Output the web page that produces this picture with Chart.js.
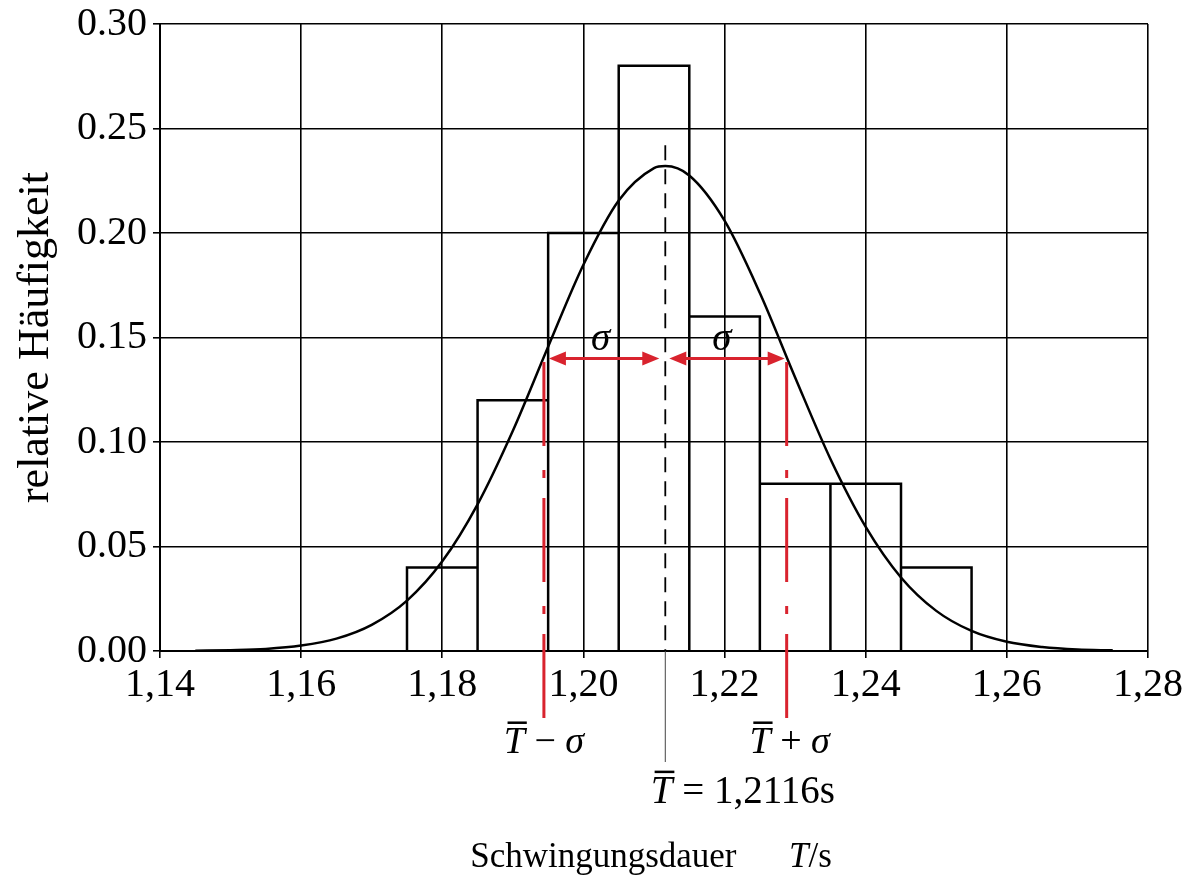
<!DOCTYPE html>
<html>
<head>
<meta charset="utf-8">
<script src="https://cdn.jsdelivr.net/npm/chart.js@4.4.0/dist/chart.umd.min.js"></script>
<style>
  html, body { margin: 0; padding: 0; background: #fff; }
  #wrap { width: 1188px; height: 884px; }
</style>
</head>
<body>
<div id="wrap"><canvas id="chart"></canvas></div>
<script>
// histogram classes (period in s) and relative frequencies
const binLeft  = [1.175, 1.185, 1.195, 1.205, 1.215, 1.225, 1.235, 1.245];
const binRight = [1.185, 1.195, 1.205, 1.215, 1.225, 1.235, 1.245, 1.255];
const relFreq  = [0.04, 0.12, 0.20, 0.28, 0.16, 0.08, 0.08, 0.04];

// normal curve, values
const curveT = [1.145, 1.150, 1.155, 1.160, 1.165, 1.170, 1.175, 1.180, 1.185, 1.190,
                1.195, 1.200, 1.205, 1.210, 1.2116, 1.215, 1.220, 1.225, 1.230, 1.235,
                1.240, 1.245, 1.250, 1.255, 1.260, 1.265, 1.270, 1.275];
const curveH = [0.0001, 0.0004, 0.0010, 0.0026, 0.0059, 0.0125, 0.0241, 0.0429, 0.0702, 0.1054,
                0.1456, 0.1848, 0.2155, 0.2310, 0.2320, 0.2275, 0.2059, 0.1713, 0.1309, 0.0919,
                0.0594, 0.0352, 0.0192, 0.0096, 0.0044, 0.0019, 0.0007, 0.0003];

// mean and standard deviation
const meanT = 1.2116;
const sigmaT = 0.0172;
const sigmaLevel = 0.14;  // where the sigma arrows sit
const meanTop = 0.242;    // top of the dashed mean line

const xRange = [1.14, 1.28, 0.02];
const yRange = [0, 0.30, 0.05];

const SERIF = '"Liberation Serif", "Times New Roman", serif';
const RED = '#d9232e';

const histPoints = [];
binLeft.forEach((l, i) => {
    histPoints.push({x: l, y: 0}, {x: l, y: relFreq[i]}, {x: binRight[i], y: relFreq[i]}, {x: binRight[i], y: 0});
});
const curvePoints = curveT.map((t, i) => ({x: t, y: curveH[i]}));

function fontOf(size, italic) {
    return (italic ? 'italic ' : '') + size + 'px ' + SERIF;
}

// draws a row of text pieces, some italic, some with an overbar
function drawRich(ctx, parts, xPos, baseY, size, align) {
    const widths = parts.map(p => {
        if (p.gap) return p.gap * size;
        ctx.font = fontOf(size, p.it);
        return ctx.measureText(p.t).width;
    });
    const total = widths.reduce((a, b) => a + b, 0);
    let cx = align === 'center' ? xPos - total / 2 : xPos;
    ctx.textAlign = 'left';
    ctx.textBaseline = 'alphabetic';
    parts.forEach((p, i) => {
        if (!p.gap) {
            ctx.font = fontOf(size, p.it);
            ctx.fillText(p.t, cx, baseY);
            if (p.bar) {
                ctx.fillRect(cx + size * 0.1, baseY - size * 0.83, widths[i] - size * 0.05, 2.5);
            }
        }
        cx += widths[i];
    });
}

function arrow(ctx, x1, x2, yy) {
    const len = 17, half = 7;
    ctx.beginPath();
    ctx.moveTo(x1 + len - 2, yy);
    ctx.lineTo(x2 - len + 2, yy);
    ctx.stroke();
    ctx.beginPath();
    ctx.moveTo(x1, yy); ctx.lineTo(x1 + len, yy - half); ctx.lineTo(x1 + len, yy + half); ctx.closePath();
    ctx.moveTo(x2, yy); ctx.lineTo(x2 - len, yy - half); ctx.lineTo(x2 - len, yy + half); ctx.closePath();
    ctx.fill();
}

const overlay = {
    id: 'overlay',
    afterDraw(chart) {
        const {ctx, chartArea: area, scales: {x, y}} = chart;
        const xm = x.getPixelForValue(meanT);
        const xl = x.getPixelForValue(meanT - sigmaT);
        const xr = x.getPixelForValue(meanT + sigmaT);
        const ys = y.getPixelForValue(sigmaLevel);
        ctx.save();

        // dashed mean line, thin solid below the axis
        ctx.strokeStyle = '#000';
        ctx.lineWidth = 1.8;
        ctx.setLineDash([15, 9]);
        ctx.beginPath();
        ctx.moveTo(xm, y.getPixelForValue(meanTop));
        ctx.lineTo(xm, area.bottom);
        ctx.stroke();
        ctx.setLineDash([]);
        ctx.lineWidth = 1;
        ctx.strokeStyle = '#444';
        ctx.beginPath();
        ctx.moveTo(xm, area.bottom);
        ctx.lineTo(xm, area.bottom + 111);
        ctx.stroke();

        // red dash-dot lines at mean +- sigma
        ctx.strokeStyle = RED;
        ctx.lineWidth = 3;
        ctx.setLineDash([84, 20, 8, 24]);
        [xl, xr].forEach(px => {
            ctx.beginPath();
            ctx.moveTo(px, area.bottom + 67);
            ctx.lineTo(px, ys);
            ctx.stroke();
        });
        ctx.setLineDash([]);

        // sigma arrows
        ctx.fillStyle = RED;
        ctx.lineWidth = 3;
        arrow(ctx, xl + 5, xm - 6, ys);
        arrow(ctx, xm + 4, xr - 2, ys);

        ctx.fillStyle = '#000';
        ctx.font = fontOf(39, true);
        ctx.textAlign = 'center';
        ctx.textBaseline = 'alphabetic';
        ctx.fillText('σ', (xl + xm) / 2 - 4, ys - 8);
        ctx.fillText('σ', (xm + xr) / 2 - 4, ys - 8);

        // labels below the axis
        drawRich(ctx, [{t: 'T', it: true, bar: true}, {t: ' − '}, {t: 'σ', it: true}], xl, area.bottom + 102, 38, 'center');
        drawRich(ctx, [{t: 'T', it: true, bar: true}, {t: ' + '}, {t: 'σ', it: true}], xr + 3, area.bottom + 102, 38, 'center');
        ctx.font = fontOf(38, true);
        const tw = ctx.measureText('T').width;
        drawRich(ctx, [{t: 'T', it: true, bar: true}, {t: ' = '}, {t: '1,2116s'}], xm - tw / 2 - 4, area.bottom + 152, 39, 'left');

        // x axis title
        drawRich(ctx, [{t: 'Schwingungsdauer'}, {gap: 1.5}, {t: 'T', it: true}, {t: '/s'}],
                 (area.left + area.right) / 2 - 3, area.bottom + 216, 35, 'center');
        ctx.restore();
    }
};

Chart.defaults.font.family = SERIF;
Chart.defaults.color = '#000';

new Chart(document.getElementById('chart'), {
    type: 'line',
    data: {
        datasets: [{
            label: 'relative Häufigkeit',
            data: histPoints,
            borderColor: '#000',
            borderWidth: 2.5,
            pointRadius: 0,
            tension: 0,
            fill: false
        }, {
            label: 'Normalverteilung',
            data: curvePoints,
            borderColor: '#000',
            borderWidth: 2.5,
            pointRadius: 0,
            cubicInterpolationMode: 'monotone',
            fill: false
        }]
    },
    options: {
        responsive: true,
        maintainAspectRatio: false,
        animation: false,
        layout: { padding: { top: 23, right: 34, left: 0, bottom: 0 } },
        plugins: { legend: { display: false }, tooltip: { enabled: false } },
        scales: {
            x: {
                type: 'linear',
                min: xRange[0],
                max: xRange[1],
                ticks: {
                    stepSize: xRange[2],
                    font: { size: 40, lineHeight: 1.1 },
                    padding: 5,
                    maxRotation: 0,
                    autoSkip: false,
                    callback: v => v.toFixed(2).replace('.', ',')
                },
                grid: { color: '#000', lineWidth: 1.6, tickLength: 7 },
                border: { color: '#000', width: 2 },
                afterFit: s => { s.height = 233; }
            },
            y: {
                min: yRange[0],
                max: yRange[1],
                ticks: {
                    stepSize: yRange[2],
                    font: { size: 40, lineHeight: 0.9 },
                    padding: 6,
                    callback: v => v.toFixed(2)
                },
                grid: { color: '#000', lineWidth: 1.6, tickLength: 7 },
                border: { color: '#000', width: 2 },
                title: {
                    display: true,
                    text: 'relative Häufigkeit',
                    font: { size: 44 },
                    padding: { top: 10, bottom: 0 }
                },
                afterFit: s => { s.width = 160; }
            }
        }
    },
    plugins: [overlay]
});
</script>
</body>
</html>
